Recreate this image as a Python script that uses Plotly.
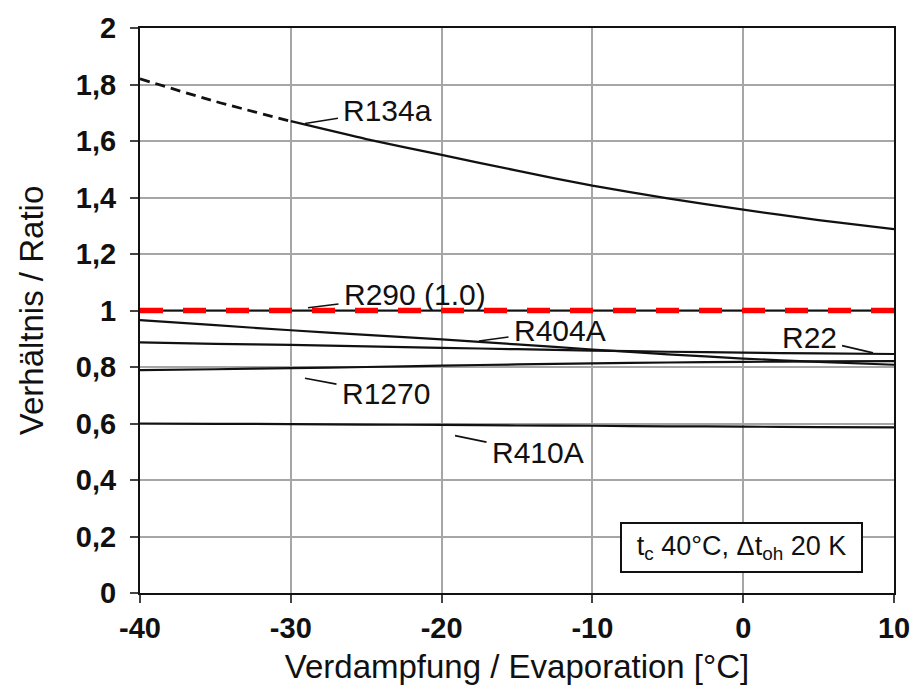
import plotly.graph_objects as go

# Evaporation temperature [°C]
evap_c = [-40, -35, -30, -25, -20, -15, -10, -5, 0, 5, 10]

# Capacity ratio relative to R290
r134a = [1.820, 1.740, 1.670, 1.607, 1.551, 1.495, 1.442, 1.397, 1.357, 1.320, 1.288]
r290 = [1.0, 1.0, 1.0, 1.0, 1.0, 1.0, 1.0, 1.0, 1.0, 1.0, 1.0]
r404a = [0.966, 0.948, 0.930, 0.914, 0.898, 0.880, 0.862, 0.845, 0.830, 0.818, 0.808]
r22 = [0.887, 0.882, 0.878, 0.873, 0.868, 0.863, 0.858, 0.854, 0.851, 0.848, 0.846]
r1270 = [0.789, 0.792, 0.796, 0.800, 0.805, 0.809, 0.813, 0.816, 0.818, 0.820, 0.821]
r410a = [0.600, 0.599, 0.598, 0.596, 0.595, 0.593, 0.592, 0.590, 0.589, 0.587, 0.586]

# Axis ticks
x_tickvals = [-40, -30, -20, -10, 0, 10]
x_ticktext = ["-40", "-30", "-20", "-10", "0", "10"]

# R134a is dashed below -30 °C
r134a_dash_end = 3

FONT = "Liberation Sans, Arial, Helvetica, sans-serif"
INK = "#111111"

fig = go.Figure()


def add_line(x, y, dash="solid", width=2.0, color=INK, shape="spline"):
    fig.add_trace(go.Scatter(
        x=x, y=y, mode="lines",
        line=dict(color=color, width=width, dash=dash, shape=shape, smoothing=0.6),
        hoverinfo="skip", showlegend=False,
    ))


add_line(evap_c[:r134a_dash_end], r134a[:r134a_dash_end], dash="10px,6px", width=2.8)
add_line(evap_c[r134a_dash_end - 1:], r134a[r134a_dash_end - 1:], width=2.3)
add_line(evap_c, r404a, width=2.2)
add_line(evap_c, r22, width=2.2)
add_line(evap_c, r1270, width=2.2)
add_line(evap_c, r410a, width=2.2)
add_line(evap_c, r290, width=2.0, shape="linear")
add_line(evap_c, r290, dash="23px,20px", width=5.5, color="#ff0000", shape="linear")

# Curve labels with leader lines: (text, tip x, tip y, text offset in px)
labels = [
    ("R134a", -29.06, 1.662, 83, -13),
    ("R290 (1.0)", -28.86, 1.010, 107, -13),
    ("R404A", -17.52, 0.892, 81, -11),
    ("R22", 8.61, 0.850, -64, -15),
    ("R1270", -29.06, 0.760, 81, 15),
    ("R410A", -19.11, 0.557, 83, 17),
]
for text, tx, ty, ox, oy in labels:
    fig.add_annotation(
        x=tx, y=ty, xref="x", yref="y", text=text,
        showarrow=True, arrowhead=0, arrowwidth=1.6, arrowcolor=INK,
        ax=ox, ay=oy, borderpad=5,
        font=dict(family=FONT, size=30, color=INK),
    )

# Operating conditions box
fig.add_annotation(
    x=-0.08, y=0.162, xref="x", yref="y",
    text="t<sub>c</sub> 40°C, Δt<sub>oh</sub> 20 K",
    showarrow=False, bgcolor="white", bordercolor=INK, borderwidth=2,
    width=239, height=47, borderpad=0,
    font=dict(family=FONT, size=27, color=INK),
)

axis_common = dict(
    showline=True, linecolor=INK, linewidth=2.2, mirror=True,
    showgrid=True, gridcolor="#a6a6a6", gridwidth=1.5,
    ticks="outside", ticklen=8, tickwidth=1.5, tickcolor="#444444",
    zeroline=False,
    tickfont=dict(family=FONT, size=29, color=INK, weight="bold"),
)

fig.update_layout(
    width=922, height=695,
    margin=dict(l=140, r=28, t=19, b=102),
    paper_bgcolor="white", plot_bgcolor="white",
    separators=", ",
    xaxis=dict(
        range=[-40, 10], tickvals=x_tickvals, ticktext=x_ticktext,
        title=dict(text="Verdampfung / Evaporation [°C]", standoff=12,
                   font=dict(family=FONT, size=33, color=INK)),
        **axis_common,
    ),
    yaxis=dict(
        range=[0, 2], dtick=0.2, tick0=0, ticklabelstandoff=8,
        title=dict(text="Verhältnis / Ratio", standoff=22,
                   font=dict(family=FONT, size=33, color=INK)),
        **axis_common,
    ),
)

fig.write_html("out.html")
